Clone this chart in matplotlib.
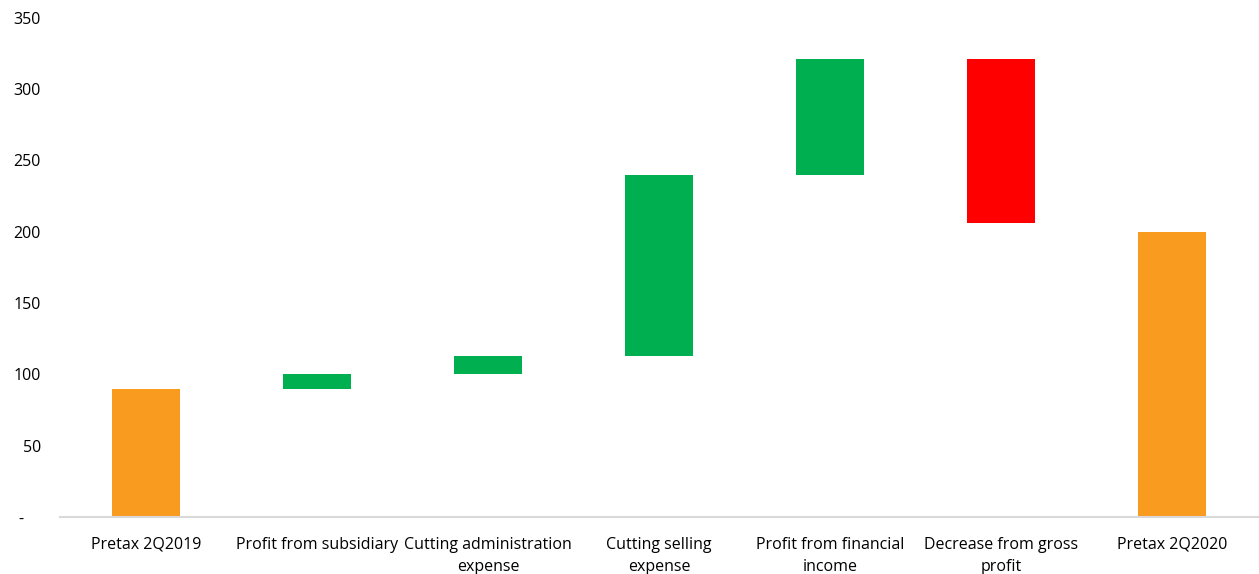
import numpy as np
import matplotlib.pyplot as plt

plt.rcParams['font.family'] = ['Open Sans', 'DejaVu Sans']

labels = ['Pretax 2Q2019', 'Profit from subsidiary', 'Cutting administration\nexpense',
          'Cutting selling\nexpense', 'Profit from financial\nincome',
          'Decrease from gross\nprofit', 'Pretax 2Q2020']
start_value = 90
changes = [10, 13, 127, 81, -115]
end_value = 200

orange = '#F99B1F'
green = '#00B050'
red = '#FF0000'

# waterfall bottoms / heights
bottoms = [0]
heights = [start_value]
colors = [orange]
level = start_value
for c in changes:
    if c >= 0:
        bottoms.append(level)
        heights.append(c)
        colors.append(green)
    else:
        bottoms.append(level + c)
        heights.append(-c)
        colors.append(red)
    level += c
bottoms.append(0)
heights.append(end_value)
colors.append(orange)

fig = plt.figure(figsize=(12.59, 5.74), dpi=100)
ax = fig.add_axes([0.048, 0.099, 0.951, 0.870])
ind = np.arange(len(labels))
ax.bar(ind, heights, bottom=bottoms, color=colors, width=0.40)

ax.set_xlim(-0.5, len(labels) - 0.5)
ax.set_ylim(0, 350)
ax.set_yticks(np.arange(0, 351, 50))
ax.set_yticklabels(['-    '] + [str(v) for v in range(50, 351, 50)])
ax.set_xticks(ind)
ax.set_xticklabels(labels, va='top', linespacing=1.5)
ax.tick_params(axis='both', length=0, labelsize=11.5, colors='#000000')
ax.tick_params(axis='x', pad=14)
ax.tick_params(axis='y', pad=14)

for s in ['top', 'right', 'left']:
    ax.spines[s].set_visible(False)
ax.spines['bottom'].set_color('#D9D9D9')
ax.spines['bottom'].set_linewidth(1.5)

fig.savefig('out.png', dpi=100)
